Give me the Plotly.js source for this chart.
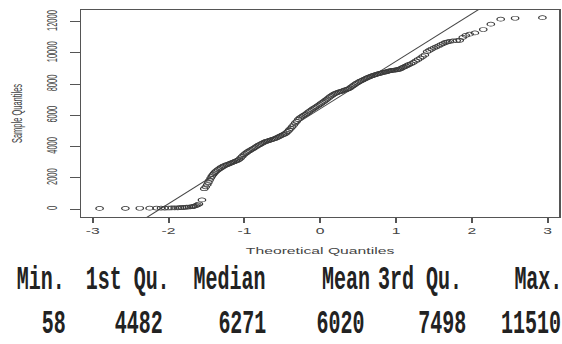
<!DOCTYPE html>
<html>
<head>
<meta charset="utf-8">
<script src="https://cdn.plot.ly/plotly-3.0.1.min.js"></script>
<style>
  html, body { margin: 0; padding: 0; background: #fff; overflow: hidden; width: 562px; height: 344px; }
  #chart { transform: scaleX(1.85); transform-origin: 0 0; }
  #chart .annotation-text { transform-box: fill-box; transform-origin: center; transform: scale(0.54, 1.7); }
</style>
</head>
<body>
<div id="chart"></div>
<script>
// ---- data ----
const theoreticalQuantiles = [
  -2.91, -2.57, -2.38, -2.25, -2.16, -2.10, -2.05, -2.00, -1.96, -1.92, -1.88, -1.85, -1.82, -1.79, -1.76, -1.73,
  -1.70, -1.68, -1.66, -1.64, -1.62, -1.60, -1.56,
  -1.53, -1.51, -1.49, -1.475, -1.46, -1.445, -1.43, -1.415, -1.40, -1.385, -1.37, -1.35, -1.33, -1.31, -1.29, -1.27,
  -1.25, -1.23, -1.21, -1.19, -1.17, -1.15, -1.13, -1.11, -1.09, -1.07, -1.05, -1.03, -1.01, -0.99, -0.97, -0.95,
  -0.93, -0.91, -0.89, -0.87, -0.85, -0.83, -0.81, -0.79, -0.77, -0.75, -0.73, -0.71, -0.69, -0.67, -0.65, -0.63,
  -0.61, -0.59, -0.57, -0.55, -0.53, -0.51, -0.49, -0.47, -0.45, -0.43, -0.41, -0.39, -0.37, -0.35, -0.33, -0.31,
  -0.29, -0.27, -0.25, -0.23, -0.21, -0.19, -0.17, -0.15, -0.13, -0.11, -0.09, -0.07, -0.05, -0.03, -0.01,
  0.01, 0.03, 0.05, 0.07, 0.09, 0.11, 0.13, 0.15, 0.17, 0.19, 0.21, 0.23, 0.25, 0.27, 0.29, 0.31, 0.33, 0.35, 0.37,
  0.39, 0.41, 0.43, 0.45, 0.47, 0.49, 0.51, 0.53, 0.55, 0.57, 0.59, 0.61, 0.63, 0.65, 0.67, 0.69, 0.71, 0.73, 0.75,
  0.77, 0.79, 0.81, 0.83, 0.85, 0.87, 0.89, 0.91, 0.93, 0.95, 0.97, 0.99, 1.01, 1.03, 1.05, 1.07, 1.09, 1.11, 1.13,
  1.15, 1.17, 1.20, 1.23, 1.26, 1.29, 1.32, 1.35, 1.38, 1.41, 1.44, 1.47, 1.50, 1.53, 1.56, 1.59, 1.62, 1.65, 1.68,
  1.71, 1.75, 1.80, 1.84, 1.88, 1.92, 1.97, 2.04, 2.15, 2.25, 2.38, 2.57, 2.93
];
const sampleQuantiles = [
  40, 45, 50, 55, 58, 60, 62, 65, 68, 72, 78, 85, 95, 105, 118, 130,
  145, 160, 185, 215, 260, 320, 580,
  1300, 1420, 1560, 1700, 1850, 1980, 2100, 2200, 2290, 2370, 2440, 2520, 2590, 2660, 2720, 2770,
  2810, 2850, 2880, 2920, 2960, 3000, 3040, 3080, 3120, 3180, 3270, 3370, 3470, 3550, 3620, 3690,
  3750, 3810, 3860, 3920, 3980, 4040, 4100, 4150, 4200, 4250, 4300, 4340, 4370, 4400, 4430, 4460,
  4490, 4520, 4570, 4620, 4670, 4720, 4760, 4800, 4870, 4960, 5060, 5170, 5270, 5390, 5510, 5620,
  5740, 5830, 5900, 5970, 6030, 6080, 6150, 6230, 6300, 6370, 6440, 6500, 6560, 6620, 6690,
  6760, 6830, 6900, 6970, 7040, 7120, 7200, 7260, 7330, 7390, 7430, 7470, 7500, 7530, 7560, 7600, 7640, 7670, 7700,
  7750, 7820, 7890, 7960, 8030, 8090, 8150, 8200, 8240, 8290, 8340, 8390, 8430, 8470, 8510, 8550, 8580, 8610, 8640,
  8670, 8690, 8720, 8750, 8770, 8790, 8820, 8850, 8870, 8880, 8890, 8910, 8920, 8940, 8970, 9020, 9070, 9110, 9160,
  9210, 9260, 9320, 9400, 9490, 9580, 9670, 9770, 9870, 10080, 10170, 10250, 10320, 10390, 10450, 10530, 10600, 10670, 10710,
  10740, 10770, 10790, 10810, 11000, 11130, 11200, 11280, 11500, 11840, 12160, 12220, 12260
];
// reference (qq) line
const qqLineIntercept = 6424;
const qqLineSlope = 3043;

const xTickValues = [-3, -2, -1, 0, 1, 2, 3];
const xTickLabels = ["-3", "-2", "-1", "0", "1", "2", "3"];
const yTickValues = [0, 2000, 4000, 6000, 8000, 10000, 12000];
const yTickLabels = ["0", "2000", "4000", "6000", "8000", "10000", "12000"];

const summaryLabels = ["Min.", "1st Qu.", "Median", "Mean", "3rd Qu.", "Max."];
const summaryValues = ["58", "4482", "6271", "6020", "7498", "11510"];

// ---- layout (page pixels; the plot is drawn narrow and stretched horizontally) ----
const SX = 1.85;
const W = 562, H = 344;
const plotLeft = 82, plotRight = 558, plotTop = 10, plotBottom = 217;
const labelCentersX = [41.5, 129, 229, 346, 420.5, 537.5];
const valueCentersX = [54, 139.5, 242, 340.5, 441.5, 531];
const labelRowY = 279, valueRowY = 323;

const toPaperX = px => (px - plotLeft) / (plotRight - plotLeft);
const toPaperY = py => (plotBottom - py) / (plotBottom - plotTop);

const lineX = [-3.6, 3.6];
const lineY = lineX.map(q => qqLineIntercept + qqLineSlope * q);

const ink = '#3a3a3a';
const traces = [
  {
    type: 'scatter', mode: 'lines', x: lineX, y: lineY,
    line: { color: '#444', width: 0.8 }, hoverinfo: 'skip', showlegend: false
  },
  {
    type: 'scatter', mode: 'markers', x: theoreticalQuantiles, y: sampleQuantiles,
    marker: { symbol: 'circle-open', size: 4, color: ink, line: { width: 0.7, color: ink } },
    showlegend: false
  }
];

const summaryFont = { family: 'Liberation Mono, Courier New, monospace', size: 20, color: '#222', weight: 700 };
const annotations = [];
summaryLabels.forEach((t, i) => annotations.push({
  text: t, xref: 'paper', yref: 'paper', x: toPaperX(labelCentersX[i]), y: toPaperY(labelRowY),
  xanchor: 'center', yanchor: 'middle', showarrow: false, font: summaryFont
}));
summaryValues.forEach((t, i) => annotations.push({
  text: t, xref: 'paper', yref: 'paper', x: toPaperX(valueCentersX[i]), y: toPaperY(valueRowY),
  xanchor: 'center', yanchor: 'middle', showarrow: false, font: summaryFont
}));

const layout = {
  width: W / SX, height: H,
  margin: { l: plotLeft / SX, r: (W - plotRight) / SX, t: plotTop, b: H - plotBottom, pad: 0 },
  paper_bgcolor: '#fff', plot_bgcolor: '#fff',
  font: { family: 'Liberation Sans, Arial, sans-serif', color: '#444' },
  xaxis: {
    range: [-3.15, 3.145], tickmode: 'array', tickvals: xTickValues, ticktext: xTickLabels,
    showgrid: false, zeroline: false, showline: true, mirror: true, linecolor: '#555', linewidth: 1,
    ticks: 'outside', ticklen: 5, tickwidth: 1, tickcolor: '#555', ticklabelstandoff: 1,
    tickfont: { size: 8.5, color: '#444' },
    title: { text: 'Theoretical Quantiles', font: { size: 8.5, color: '#444' }, standoff: 12 }
  },
  yaxis: {
    range: [-512, 12750], tickmode: 'array', tickvals: yTickValues, ticktext: yTickLabels,
    showgrid: false, zeroline: false, showline: true, mirror: true, linecolor: '#555', linewidth: 1,
    ticks: 'outside', ticklen: 5, tickwidth: 1, tickcolor: '#555', tickangle: -90, ticklabelstandoff: 4,
    tickfont: { size: 7.5, color: '#444' },
    title: { text: 'Sample Quantiles', font: { size: 7.5, color: '#444' }, standoff: 10 }
  },
  annotations: annotations
};

Plotly.newPlot('chart', traces, layout, { staticPlot: true, displayModeBar: false });
</script>
</body>
</html>
